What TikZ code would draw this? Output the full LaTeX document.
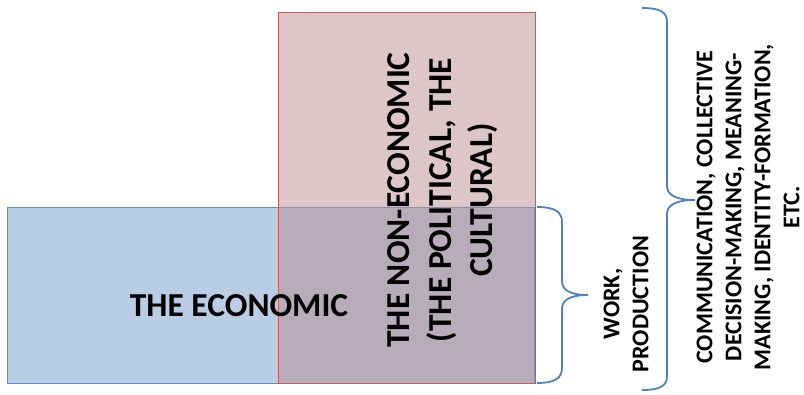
\documentclass[tikz,border=0pt]{standalone}
\usepackage{fontspec}
\setmainfont{Carlito}
\definecolor{econfill}{RGB}{185,205,228}
\definecolor{econline}{RGB}{100,140,200}
\definecolor{nonfill}{RGB}{185,141,145}
\definecolor{nonline}{RGB}{200,90,90}
\definecolor{bracecol}{RGB}{79,129,189}
\tikzset{
  box/.style={draw, line width=1pt, inner sep=0pt, anchor=north west},
  bigtxt/.style={font=\bfseries\fontsize{33.5}{41.5}\selectfont, align=center, inner sep=0pt},
  smalltxt/.style={font=\bfseries\fontsize{24}{29}\selectfont, align=center, inner sep=0pt},
  bracestyle/.style={draw=bracecol, line width=1.8pt}
}
\begin{document}
\begin{tikzpicture}[x=1pt,y=-1pt]
\useasboundingbox (0,0) rectangle (804,394);
\node[box, draw=econline, fill=econfill, minimum width=527pt, minimum height=176pt] (econ) at (7,207) {};
\node[box, draw=nonline, fill=nonfill, fill opacity=0.5, minimum width=257pt, minimum height=371pt] (nonecon) at (278,12) {};
\node[bigtxt] (econtxt) at (239,306) {THE ECONOMIC};
\node[bigtxt, rotate=90] (nontxt) at (443,200) {THE NON-ECONOMIC\\(THE POLITICAL, THE\\CULTURAL)};
\node[smalltxt, rotate=90] (worktxt) at (626,304) {WORK,\\PRODUCTION};
\node[smalltxt, rotate=90] (commtxt) at (748,207) {COMMUNICATION, COLLECTIVE\\DECISION-MAKING, MEANING-\\MAKING, IDENTITY-FORMATION,\\ETC.};
% small brace
\coordinate (sb1) at (537,207);
\coordinate (sbt) at (588,295);
\coordinate (sb2) at (537,383);
\draw[bracestyle] (sb1) .. controls (555,207) and (562,212) .. (562,222) -- (562,281)
  .. controls (562,290) and (570,295) .. (sbt)
  .. controls (570,295) and (562,300) .. (562,309) -- (562,368)
  .. controls (562,378) and (555,383) .. (sb2);
% large brace
\coordinate (lb1) at (642,8);
\coordinate (lbt) at (695,200);
\coordinate (lb2) at (642,390);
\draw[bracestyle] (lb1) .. controls (660,8) and (667,12) .. (667,22) -- (667,186)
  .. controls (667,195) and (676,200) .. (lbt)
  .. controls (676,200) and (667,205) .. (667,214) -- (667,376)
  .. controls (667,386) and (660,390) .. (lb2);
\end{tikzpicture}
\end{document}
